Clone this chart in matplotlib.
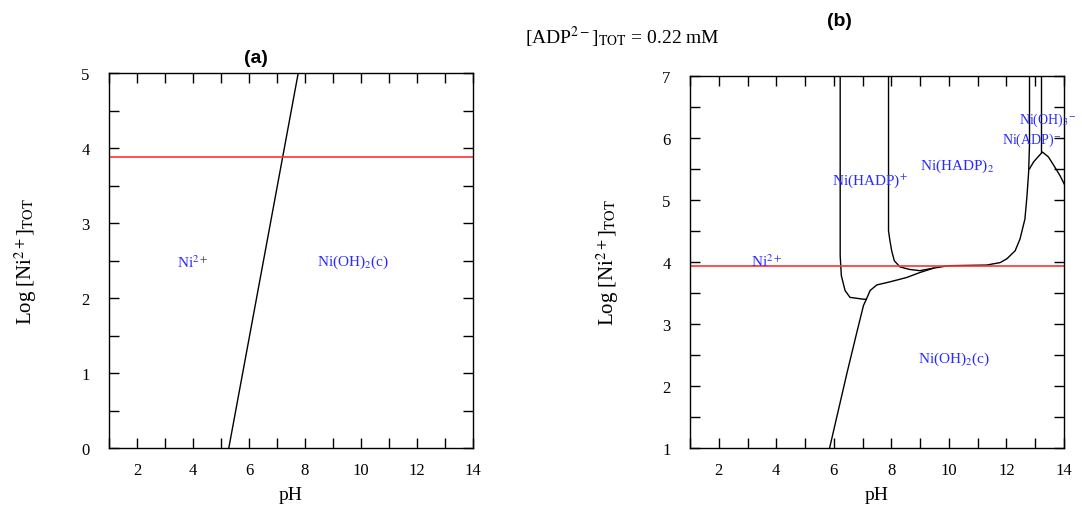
import matplotlib
matplotlib.use('Agg')
import matplotlib.pyplot as plt
from matplotlib.ticker import MultipleLocator

plt.rcParams['font.family'] = ['Liberation Serif', 'DejaVu Serif']
plt.rcParams['mathtext.fontset'] = 'stix'

# panel (a): Ni2+ / Ni(OH)2(c) boundary
ph_a = [5.28, 7.76]
lognia = [0.0, 5.0]
level_a = 3.88

# panel (b): boundaries with ADP
ph_b1 = [6.22, 6.22, 6.26, 6.39, 6.56, 7.03, 7.13]
ln_b1 = [7.0, 4.10, 3.78, 3.54, 3.43, 3.40, 3.40]

ph_b2 = [5.85, 6.45, 6.80, 7.03, 7.13, 7.26, 7.49, 7.95, 8.53, 8.99, 9.46, 9.98,
         11.31, 11.78, 12.01, 12.30, 12.47, 12.64, 12.71, 12.77, 12.80, 12.80]
ln_b2 = [1.0, 2.20, 2.87, 3.30, 3.40, 3.54, 3.63, 3.68, 3.75, 3.83, 3.90, 3.94,
         3.95, 3.99, 4.05, 4.18, 4.37, 4.69, 5.05, 5.45, 5.90, 7.0]

ph_b3 = [7.90, 7.90, 7.95, 8.01, 8.10, 8.30, 8.63, 8.99, 9.22, 9.46]
ln_b3 = [7.0, 4.50, 4.34, 4.18, 4.02, 3.92, 3.88, 3.86, 3.88, 3.90]

ph_b4 = [12.80, 12.94, 13.11, 13.25, 13.46, 13.69, 13.86, 14.0]
ln_b4 = [5.50, 5.61, 5.70, 5.77, 5.69, 5.52, 5.39, 5.26]

ph_b5 = [13.21, 13.21]
ln_b5 = [5.77, 7.0]
level_b = 3.94

labels_a = [('Ni$^{2+}$', 4.0, 2.49, 11), ('Ni(OH)$_2$(c)', 9.7, 2.49, 11)]
labels_b = [('Ni$^{2+}$', 3.67, 4.02, 11), ('Ni(HADP)$^{+}$', 7.26, 5.32, 11),
            ('Ni(HADP)$_2$', 10.27, 5.56, 11), ('Ni(ADP)$^{-}$', 12.86, 5.98, 10),
            ('Ni(OH)$_3$$^{-}$', 13.43, 6.30, 10), ('Ni(OH)$_2$(c)', 10.18, 2.45, 11)]

fig = plt.figure(figsize=(10.82, 5.06), dpi=100)
ax1 = fig.add_axes([0.1007, 0.1126, 0.3364, 0.7411])
ax2 = fig.add_axes([0.6377, 0.1121, 0.3457, 0.7364])


def style(ax, ylo, yhi):
    ax.set_xlim(1, 14)
    ax.set_ylim(ylo, yhi)
    ax.xaxis.set_major_locator(MultipleLocator(2))
    ax.xaxis.set_minor_locator(MultipleLocator(1))
    ax.yaxis.set_major_locator(MultipleLocator(1))
    ax.yaxis.set_minor_locator(MultipleLocator(0.5))
    ax.tick_params(which='both', direction='in', top=True, right=True,
                   length=7, width=1, labelsize=12)
    ax.tick_params(axis='y', pad=14)
    ax.tick_params(axis='x', pad=10)
    ax.set_xlabel('pH', fontsize=14, labelpad=6)
    ax.set_ylabel('Log [Ni$^{2+}$]$_{\\mathrm{TOT}}$', fontsize=15, labelpad=30)
    for s in ax.spines.values():
        s.set_linewidth(1.0)


style(ax1, 0, 5)
ax1.plot(ph_a, lognia, color='black', lw=1.0)
ax1.axhline(level_a, color='#ff3030', lw=1.2)
for t, x, y, fs in labels_a:
    ax1.text(x, y, t, color='#2a2aff', fontsize=fs, ha='center', va='center')

style(ax2, 1, 7)
for xs, ys in [(ph_b1, ln_b1), (ph_b2, ln_b2), (ph_b3, ln_b3), (ph_b4, ln_b4), (ph_b5, ln_b5)]:
    ax2.plot(xs, ys, color='black', lw=1.0)
ax2.axhline(level_b, color='#ff3030', lw=1.2)
for t, x, y, fs in labels_b:
    ax2.text(x, y, t, color='#2a2aff', fontsize=fs, ha='center', va='center', clip_on=False)

fig.text(0.237, 0.885, '(a)', fontsize=14, fontweight='bold', family='Liberation Sans',
         ha='center', va='center')
fig.text(0.776, 0.957, '(b)', fontsize=14, fontweight='bold', family='Liberation Sans',
         ha='center', va='center')
fig.text(0.575, 0.925, '[ADP$^{2-}$]$_{\\mathrm{TOT}}$ = 0.22 mM', fontsize=14,
         ha='center', va='center')

fig.savefig('out.png', dpi=100)
